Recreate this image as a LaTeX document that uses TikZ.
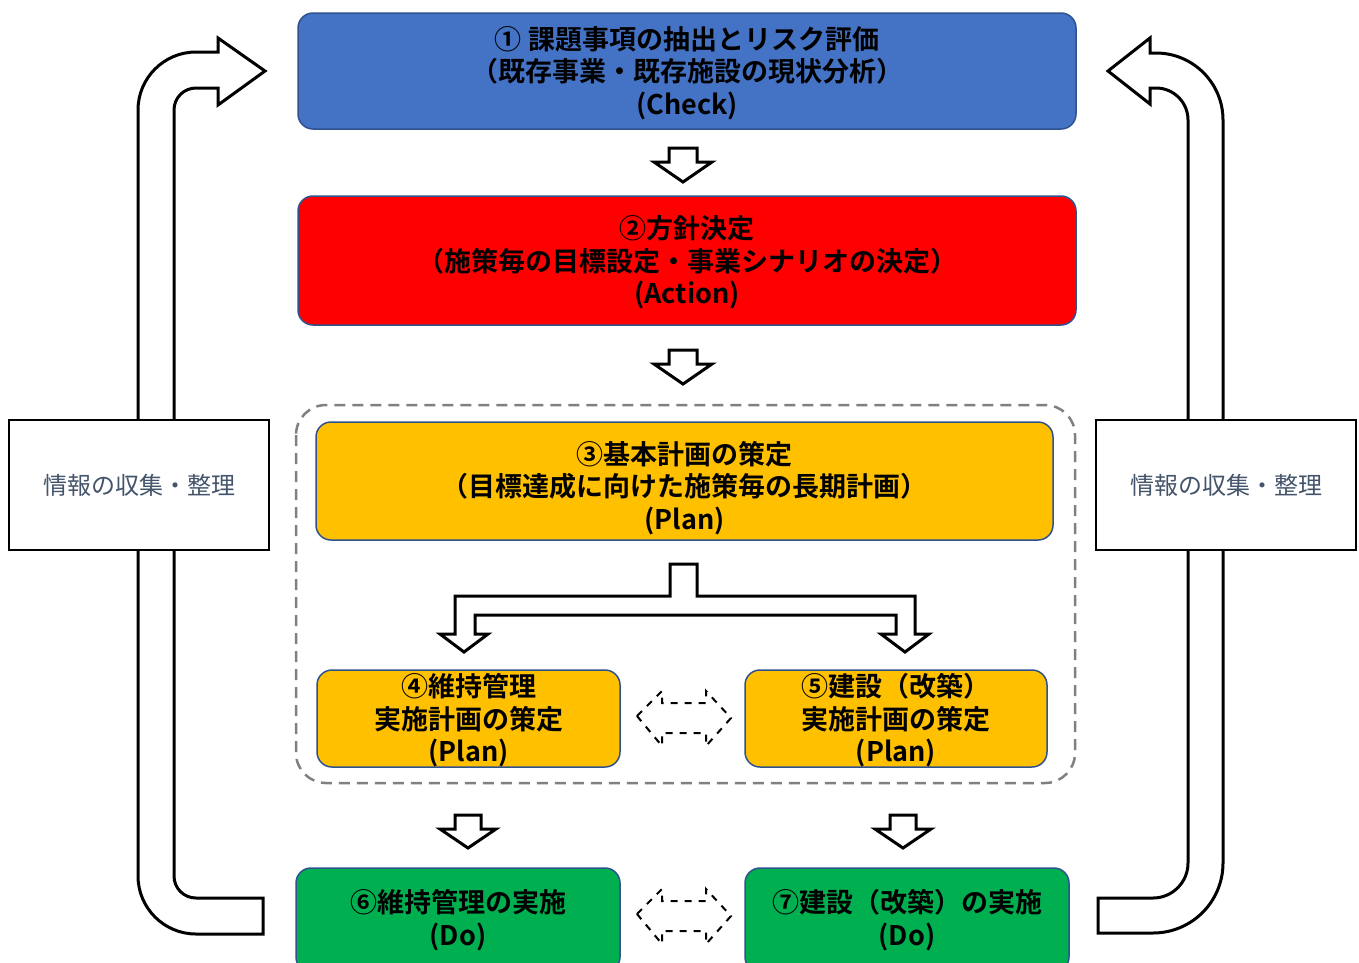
\documentclass[tikz,border=0pt]{standalone}
\usepackage{fontspec}
\newfontfamily\jpb{Noto Sans CJK JP Bold}
\newfontfamily\jpr{Noto Sans CJK JP}
\definecolor{cblue}{HTML}{4472C4}
\definecolor{cred}{HTML}{FF0000}
\definecolor{corange}{HTML}{FFC000}
\definecolor{cgreen}{HTML}{00B050}
\definecolor{cedge}{HTML}{2F528F}
\definecolor{cside}{HTML}{44546A}
\definecolor{cdash}{HTML}{808080}
\tikzset{
  procbox/.style={draw=cedge, line width=1.5pt, rounded corners=15pt},
  proctext/.style={font=\jpb\fontsize{27}{32.5}\selectfont, align=center, text=black, inner sep=0pt},
  sidebox/.style={draw=black, line width=2.5pt, fill=white},
  sidetext/.style={font=\jpr\fontsize{24}{28}\selectfont, text=cside, inner sep=0pt},
  blockarrow/.style={draw=black, line width=3pt, fill=white, line join=miter},
  dasharrow/.style={draw=black, line width=2pt, dash pattern=on 7pt off 7pt, line join=miter},
}
\begin{document}
\begin{tikzpicture}[x=1pt, y=-1pt]
\useasboundingbox (0,0) rectangle (1359,962);
\clip (0,0) rectangle (1359,962);
\fill[white] (0,0) rectangle (1359,962);

% dashed group frame
\draw[cdash, line width=2.5pt, dash pattern=on 11pt off 7pt, rounded corners=30pt] (296,405) rectangle (1075,783);

% feedback arrows (left and right)
\draw[blockarrow] (263,934) -- (196,934)
  .. controls (164,934) and (138,908) .. (138,876)
  -- (138,110)
  .. controls (138,78) and (164,52) .. (196,52)
  -- (218,52) -- (218,38) -- (265,71) -- (218,105) -- (218,88) -- (196,88)
  .. controls (183.8,88) and (174,97.8) .. (174,110)
  -- (174,876)
  .. controls (174,888.2) and (183.8,898) .. (196,898)
  -- (263,898) -- cycle;
\draw[blockarrow] (1098,898) -- (1153,898)
  .. controls (1172.3,898) and (1188,882.3) .. (1188,863)
  -- (1188,120)
  .. controls (1188,102.3) and (1173.7,88) .. (1156,88)
  -- (1150,88) -- (1150,104) -- (1108,71) -- (1150,38) -- (1150,53) -- (1156,53)
  .. controls (1193,53) and (1223,83) .. (1223,120)
  -- (1223,863)
  .. controls (1223,901.7) and (1191.7,933) .. (1153,933)
  -- (1098,933) -- cycle;

% side boxes
\node[sidebox, minimum width=260pt, minimum height=130pt] (infoL) at (139,485) {};
\node[sidetext] at (infoL.center) {情報の収集・整理};
\node[sidebox, minimum width=260pt, minimum height=130pt] (infoR) at (1226,485) {};
\node[sidetext] at (infoR.center) {情報の収集・整理};

% process boxes
\node[procbox, fill=cblue, minimum width=778pt, minimum height=116pt] (b1) at (687,71) {};
\node[proctext] at (687,73) {① 課題事項の抽出とリスク評価\\（既存事業・既存施設の現状分析）\\(Check)};
\node[procbox, fill=cred, minimum width=778pt, minimum height=129pt] (b2) at (687,260.5) {};
\node[proctext] at (687,262.5) {②方針決定\\（施策毎の目標設定・事業シナリオの決定）\\(Action)};
\node[procbox, fill=corange, minimum width=737pt, minimum height=118pt] (b3) at (684.5,481) {};
\node[proctext] at (684.5,488) {③基本計画の策定\\（目標達成に向けた施策毎の長期計画）\\(Plan)};
\node[procbox, fill=corange, minimum width=303pt, minimum height=97pt] (b4) at (468.5,718.5) {};
\node[proctext] at (468.5,720.5) {④維持管理\\実施計画の策定\\(Plan)};
\node[procbox, fill=corange, minimum width=302pt, minimum height=97pt] (b5) at (896,718.5) {};
\node[proctext] at (896,720.5) {⑤建設（改築）\\実施計画の策定\\(Plan)};
\node[procbox, fill=cgreen, minimum width=324pt, minimum height=104pt] (b6) at (458,920) {};
\node[proctext] at (458,920) {⑥維持管理の実施\\(Do)};
\node[procbox, fill=cgreen, minimum width=324pt, minimum height=104pt] (b7) at (907,920) {};
\node[proctext] at (907,920) {⑦建設（改築）の実施\\(Do)};

% down block arrows
\draw[blockarrow] (669,148) -- (697,148) -- (697,162) -- (712,162) -- (683,182) -- (654,162) -- (669,162) -- cycle;
\draw[blockarrow] (669,350) -- (697,350) -- (697,364) -- (712,364) -- (683,384) -- (654,364) -- (669,364) -- cycle;
\draw[blockarrow] (455,815) -- (481,815) -- (481,829) -- (496,829) -- (468,848) -- (440,829) -- (455,829) -- cycle;
\draw[blockarrow] (890,815) -- (916,815) -- (916,829) -- (931,829) -- (903,848) -- (875,829) -- (890,829) -- cycle;

% branching arrow
\draw[blockarrow] (670,564) -- (697,564) -- (697,596) -- (915,596) -- (915,634) -- (929,634) -- (905,652)
  -- (881,634) -- (896,634) -- (896,615) -- (475,615) -- (475,634) -- (488,634) -- (464,652)
  -- (440,634) -- (455,634) -- (455,596) -- (670,596) -- cycle;

% dashed double arrows
\draw[dasharrow] (637,716) -- (662,691) -- (662,703) -- (706,703) -- (706,691) -- (731,718)
  -- (706,746) -- (706,733) -- (662,733) -- (662,746) -- cycle;
\draw[dasharrow] (637,914) -- (662,889) -- (662,901) -- (706,901) -- (706,889) -- (731,916)
  -- (706,944) -- (706,931) -- (662,931) -- (662,944) -- cycle;
\end{tikzpicture}
\end{document}
